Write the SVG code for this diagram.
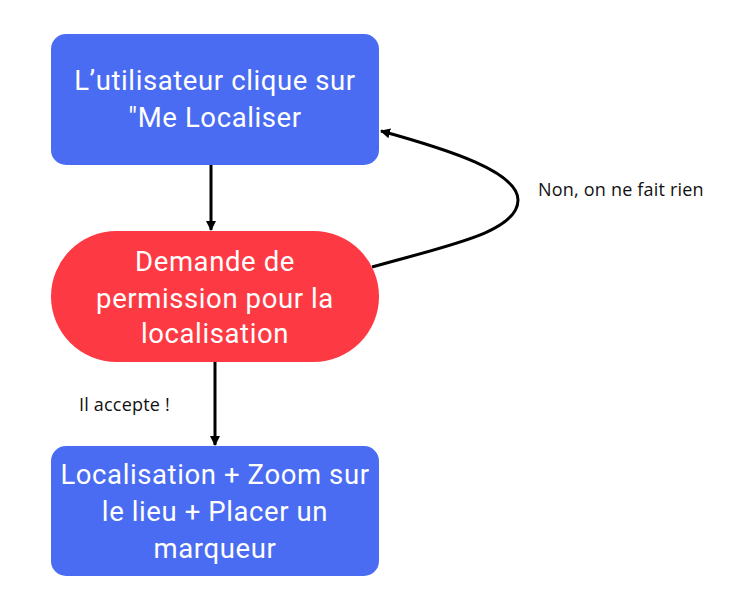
<svg xmlns="http://www.w3.org/2000/svg" width="750" height="613" viewBox="0 0 750 613">
<defs>
<marker id="ah" viewBox="0 0 10 10" refX="9" refY="5" markerWidth="10" markerHeight="10" markerUnits="userSpaceOnUse" orient="auto"><path d="M0,0 L10,5 L0,10 z" fill="#000"/></marker>
<style>
.node{font-family:"Roboto","Open Sans",sans-serif;font-size:27.5px;letter-spacing:0.6px;fill:#fff;text-anchor:middle}
.lbl{font-family:"Open Sans","Noto Sans",sans-serif;font-size:18px;letter-spacing:0.2px;fill:#111}
.edge{fill:none;stroke:#000;stroke-width:3;marker-end:url(#ah)}
</style>
</defs>
<rect width="750" height="613" fill="#fff"/>
<g id="connectors">
<path class="edge" d="M211,165 L211,230"/>
<path class="edge" d="M215,362 L215,445"/>
<path class="edge" d="M372,267 C450,245 518,232 518,200 C518,172 450,150 381,131"/>
</g>
<g id="n1">
<rect x="51" y="34" width="328" height="131" rx="15" fill="#4a6cf2"/>
<text class="node" x="215" y="90">L’utilisateur clique sur</text>
<text class="node" x="215" y="127">"Me Localiser</text>
</g>
<g id="n2">
<rect x="51" y="231" width="328" height="131" rx="65.5" fill="#fd3a43"/>
<text class="node" x="215" y="271">Demande de</text>
<text class="node" x="215" y="308">permission pour la</text>
<text class="node" x="215" y="343">localisation</text>
</g>
<g id="n3">
<rect x="51" y="446" width="328" height="130" rx="15" fill="#4a6cf2"/>
<text class="node" x="215" y="484">Localisation + Zoom sur</text>
<text class="node" x="215" y="521">le lieu + Placer un</text>
<text class="node" x="215" y="558">marqueur</text>
</g>
<g id="labels">
<text class="lbl" x="538" y="196">Non, on ne fait rien</text>
<text class="lbl" x="79" y="411">Il accepte !</text>
</g>
</svg>
